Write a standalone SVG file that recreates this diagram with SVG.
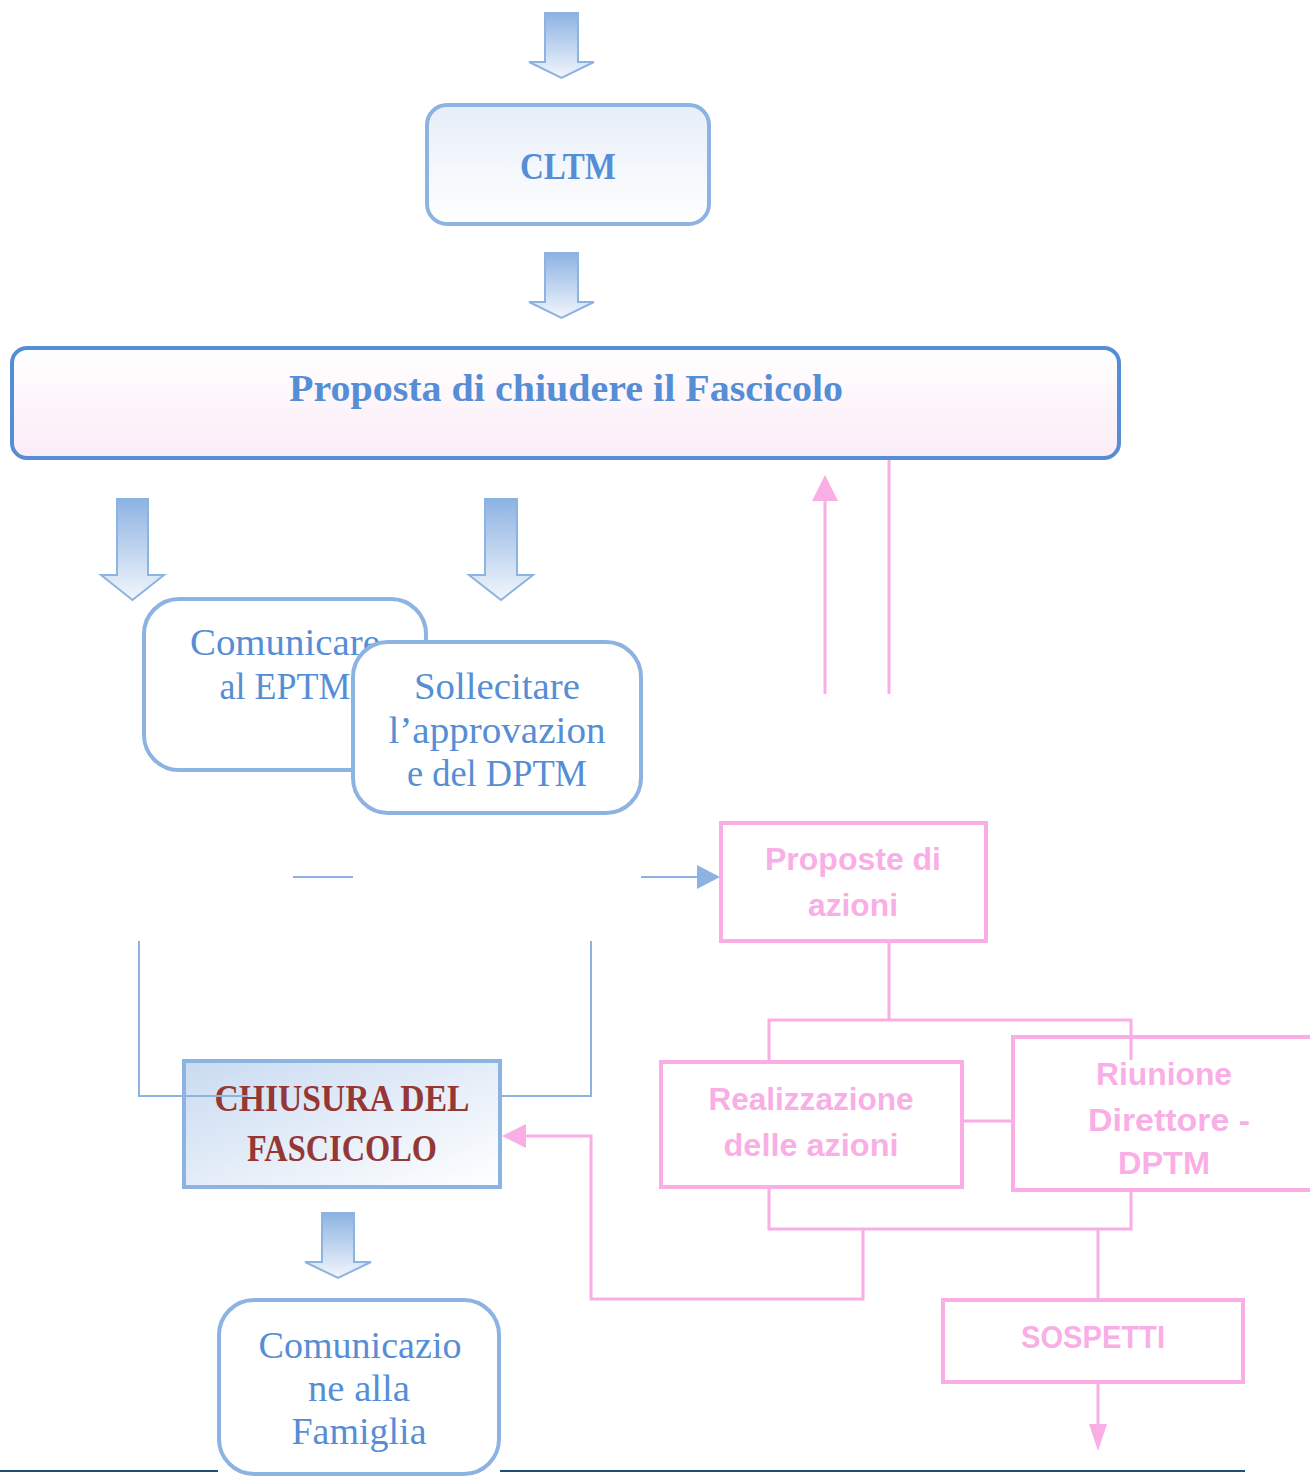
<svg xmlns="http://www.w3.org/2000/svg" width="1310" height="1477" viewBox="0 0 1310 1477">
<defs>
<linearGradient id="gArrow" x1="0" y1="0" x2="0" y2="1">
<stop offset="0" stop-color="#8db3e2"/><stop offset="1" stop-color="#f2f6fc"/>
</linearGradient>
<linearGradient id="gCltm" x1="0" y1="0" x2="0" y2="1">
<stop offset="0" stop-color="#e7eef8"/><stop offset="1" stop-color="#ffffff"/>
</linearGradient>
<linearGradient id="gBig" x1="0" y1="0" x2="0" y2="1">
<stop offset="0" stop-color="#ffffff"/><stop offset="1" stop-color="#fbecf7"/>
</linearGradient>
<linearGradient id="gChi" x1="0" y1="0" x2="1" y2="1">
<stop offset="0" stop-color="#c9dbf1"/><stop offset="1" stop-color="#ffffff"/>
</linearGradient>
<style>
.barrow{fill:url(#gArrow);stroke:#8db3e2;stroke-width:2}
.rbox{fill:#ffffff;stroke:#8db3e2;stroke-width:4}
.serif{font-family:"Liberation Serif","DejaVu Serif",serif;fill:#558ed5;text-anchor:middle}
.sans{font-family:"Liberation Sans","Open Sans",sans-serif;font-weight:bold;fill:#f9aee5;text-anchor:middle}
.pbox{fill:none;stroke:#f9aee5;stroke-width:4}
.pl{fill:none;stroke:#f9aee5;stroke-width:3}
.bl{fill:none;stroke:#8db3e2;stroke-width:2}
.red{font-family:"Liberation Serif","DejaVu Serif",serif;font-weight:bold;fill:#953735;text-anchor:middle}
</style>
</defs>

<g id="cltm">
<rect x="427" y="105" width="282" height="119" rx="20" fill="url(#gCltm)" stroke="#8db3e2" stroke-width="4"/>
<text class="serif" x="568" y="179" font-size="38" font-weight="bold" textLength="96" lengthAdjust="spacingAndGlyphs">CLTM</text>
</g>

<g id="proposta">
<rect x="12" y="348" width="1107" height="110" rx="15" fill="url(#gBig)" stroke="#558ed5" stroke-width="4"/>
<text class="serif" x="566" y="401" font-size="37" font-weight="bold" textLength="554" lengthAdjust="spacingAndGlyphs">Proposta di chiudere il Fascicolo</text>
</g>

<g id="comunicare">
<rect class="rbox" x="144" y="599" width="282" height="171" rx="35"/>
<text class="serif" x="285" y="655" font-size="37" textLength="190" lengthAdjust="spacingAndGlyphs">Comunicare</text>
<text class="serif" x="285" y="699" font-size="37" textLength="131" lengthAdjust="spacingAndGlyphs">al EPTM</text>
</g>

<g id="sollecitare">
<rect class="rbox" x="353" y="642" width="288" height="171" rx="35"/>
<text class="serif" x="497" y="699" font-size="37" textLength="166" lengthAdjust="spacingAndGlyphs">Sollecitare</text>
<text class="serif" x="497" y="743" font-size="37" textLength="217" lengthAdjust="spacingAndGlyphs">l’approvazion</text>
<text class="serif" x="497" y="786" font-size="37" textLength="180" lengthAdjust="spacingAndGlyphs">e del DPTM</text>
</g>

<g id="chiusura">
<rect x="184" y="1061" width="316" height="126" fill="url(#gChi)" stroke="#8db3e2" stroke-width="4"/>
<text class="red" x="342" y="1111" font-size="38" textLength="255" lengthAdjust="spacingAndGlyphs">CHIUSURA DEL</text>
<text class="red" x="342" y="1161" font-size="38" textLength="190" lengthAdjust="spacingAndGlyphs">FASCICOLO</text>
</g>

<g id="comunicazione">
<rect class="rbox" x="219" y="1300" width="280" height="174" rx="35"/>
<text class="serif" x="360" y="1358" font-size="37" textLength="203" lengthAdjust="spacingAndGlyphs">Comunicazio</text>
<text class="serif" x="359" y="1401" font-size="37" textLength="102" lengthAdjust="spacingAndGlyphs">ne alla</text>
<text class="serif" x="359" y="1444" font-size="37" textLength="135" lengthAdjust="spacingAndGlyphs">Famiglia</text>
</g>

<g id="proposte">
<rect class="pbox" x="721" y="823" width="265" height="118"/>
<text class="sans" x="853" y="870" font-size="31" textLength="176" lengthAdjust="spacingAndGlyphs">Proposte di</text>
<text class="sans" x="853" y="916" font-size="31" textLength="90" lengthAdjust="spacingAndGlyphs">azioni</text>
</g>

<g id="realizzazione">
<rect class="pbox" x="661" y="1062" width="301" height="125"/>
<text class="sans" x="811" y="1110" font-size="31" textLength="205" lengthAdjust="spacingAndGlyphs">Realizzazione</text>
<text class="sans" x="811" y="1156" font-size="31" textLength="175" lengthAdjust="spacingAndGlyphs">delle azioni</text>
</g>

<g id="riunione">
<rect class="pbox" x="1013" y="1037" width="302" height="153"/>
<text class="sans" x="1164" y="1085" font-size="31" textLength="136" lengthAdjust="spacingAndGlyphs">Riunione</text>
<text class="sans" x="1169" y="1131" font-size="31" textLength="162" lengthAdjust="spacingAndGlyphs">Direttore -</text>
<text class="sans" x="1164" y="1174" font-size="31" textLength="92" lengthAdjust="spacingAndGlyphs">DPTM</text>
</g>

<g id="sospetti">
<rect class="pbox" x="943" y="1300" width="300" height="82"/>
<text class="sans" x="1093" y="1348" font-size="32" textLength="144" lengthAdjust="spacingAndGlyphs">SOSPETTI</text>
</g>

<g id="connectors">
<path class="barrow" d="M545,13 H578 V62 H594 L561.5,78 L529,62 H545 Z"/>
<path class="barrow" d="M545,253 H578 V302 H594 L561.5,318 L529,302 H545 Z"/>
<path class="barrow" d="M117,499 H148 V575 H164 L132.5,600 L101,575 H117 Z"/>
<path class="barrow" d="M485,499 H517 V575 H533 L501,600 L469,575 H485 Z"/>
<path class="barrow" d="M322,1213 H354 V1262 H371 L338,1278 L305,1262 H322 Z"/>
<line class="bl" x1="293" y1="877" x2="353" y2="877"/>
<line class="bl" x1="641" y1="877" x2="700" y2="877"/>
<polygon points="720,877 697,865 697,889" fill="#8db3e2"/>
<polyline class="bl" points="139,941 139,1096 248,1096"/>
<polyline class="bl" points="591,941 591,1096 502,1096"/>
<line class="pl" x1="825" y1="694" x2="825" y2="498"/>
<polygon points="825,475 812,501 838,501" fill="#f9aee5"/>
<line class="pl" x1="889" y1="460" x2="889" y2="694"/>
<line class="pl" x1="889" y1="943" x2="889" y2="1020"/>
<polyline class="pl" points="769,1060 769,1020 1131,1020 1131,1060"/>
<line class="pl" x1="964" y1="1121" x2="1011" y2="1121"/>
<polyline class="pl" points="769,1189 769,1229 1131,1229 1131,1192"/>
<polyline class="pl" points="863,1229 863,1299 591,1299 591,1136 522,1136"/>
<polygon points="502,1136 526,1124 526,1148" fill="#f9aee5"/>
<line class="pl" x1="1098" y1="1229" x2="1098" y2="1298"/>
<line class="pl" x1="1098" y1="1384" x2="1098" y2="1428"/>
<polygon points="1098,1451 1089,1424 1107,1424" fill="#f9aee5"/>
<line x1="0" y1="1471" x2="218" y2="1471" stroke="#1f4e79" stroke-width="2"/>
<line x1="500" y1="1471" x2="1245" y2="1471" stroke="#1f4e79" stroke-width="2"/>
</g>
</svg>
